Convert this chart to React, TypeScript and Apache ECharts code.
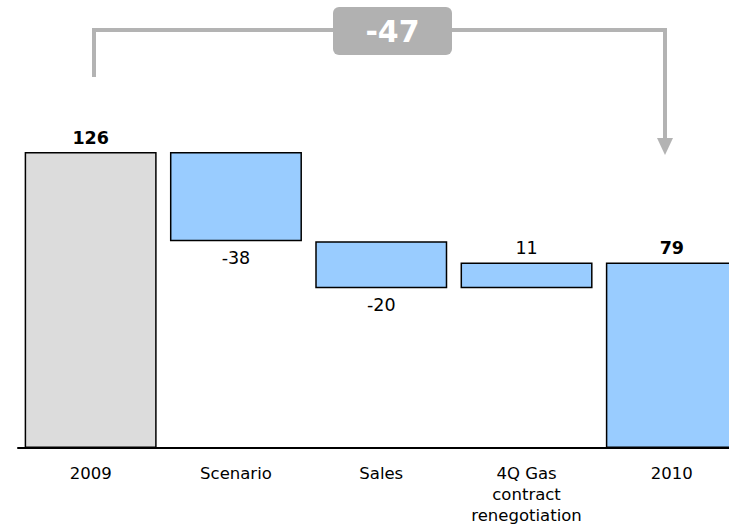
import React, { useEffect, useRef } from "react";
import * as echarts from "echarts";

const categories = ["2009", "Scenario", "Sales", "4Q Gas\ncontract\nrenegotiation", "2010"];
const baseValues = [0, 88, 68, 68, 0];
const barValues = [126, 38, 20, 11, 79];
const labelTexts = ["126", "-38", "-20", "11", "79"];
const labelBold = [true, false, false, false, true];
const labelPos = ["top", "bottom", "bottom", "top", "top"];
const barColors = ["#dcdcdc", "#99ccff", "#99ccff", "#99ccff", "#99ccff"];
const totalChange = "-47";

const FONT = "DejaVu Sans, Verdana, sans-serif";
const CHART_W = 770;

export default function App() {
  const ref = useRef<HTMLDivElement>(null);
  useEffect(() => {
    if (!ref.current) return;
    const chart = echarts.init(ref.current, undefined, { renderer: "svg" });
    const gridLeft = 18;
    const step = 145.3;
    const lineColor = "#b3b3b3";
    chart.setOption({
      animation: false,
      grid: { left: gridLeft, right: CHART_W - gridLeft - step * categories.length, top: 152, bottom: 80 },
      xAxis: {
        type: "category",
        data: categories,
        axisLine: { lineStyle: { color: "#000", width: 2 } },
        axisTick: { show: false },
        axisLabel: {
          color: "#000",
          fontFamily: FONT,
          fontSize: 16.5,
          lineHeight: 21,
          margin: 15,
          interval: 0,
        },
      },
      yAxis: {
        type: "value",
        min: 0,
        max: 126,
        show: false,
        splitLine: { show: false },
      },
      series: [
        {
          type: "bar",
          stack: "w",
          data: baseValues,
          itemStyle: { color: "transparent" },
          barWidth: 132,
          silent: true,
        },
        {
          type: "bar",
          stack: "w",
          barWidth: 132,
          data: barValues.map((v, i) => ({
            value: v,
            itemStyle: {
              color: barColors[i],
              borderColor: "#000",
              borderWidth: 1.5,
            },
            label: {
              show: true,
              position: labelPos[i],
              formatter: labelTexts[i],
              fontFamily: FONT,
              fontSize: 17.5,
              fontWeight: labelBold[i] ? "bold" : "normal",
              color: "#000",
              distance: labelPos[i] === "top" ? 5 : 8,
            },
          })),
        },
      ],
      graphic: [
        { type: "line", shape: { x1: 94, y1: 77, x2: 94, y2: 28 }, style: { stroke: lineColor, lineWidth: 4 } },
        { type: "line", shape: { x1: 92, y1: 30, x2: 667, y2: 30 }, style: { stroke: lineColor, lineWidth: 4 } },
        { type: "line", shape: { x1: 665, y1: 28, x2: 665, y2: 140 }, style: { stroke: lineColor, lineWidth: 4 } },
        {
          type: "polygon",
          shape: { points: [[657, 138], [673, 138], [665, 155]] },
          style: { fill: lineColor },
        },
        {
          type: "rect",
          shape: { x: 333, y: 7, width: 119, height: 48, r: 6 },
          style: { fill: "#b1b1b1" },
        },
        {
          type: "text",
          x: 392.5,
          y: 31,
          style: {
            text: totalChange,
            fontFamily: FONT,
            fontSize: 30,
            fontWeight: "bold",
            fill: "#fff",
            align: "center",
            verticalAlign: "middle",
          },
        },
      ],
    });
    return () => chart.dispose();
  }, []);
  return (
    <div style={{ position: "absolute", left: 0, top: 0, width: 729, height: 528, overflow: "hidden", background: "#fff" }}>
      <div ref={ref} style={{ width: CHART_W, height: 528 }} />
    </div>
  );
}
